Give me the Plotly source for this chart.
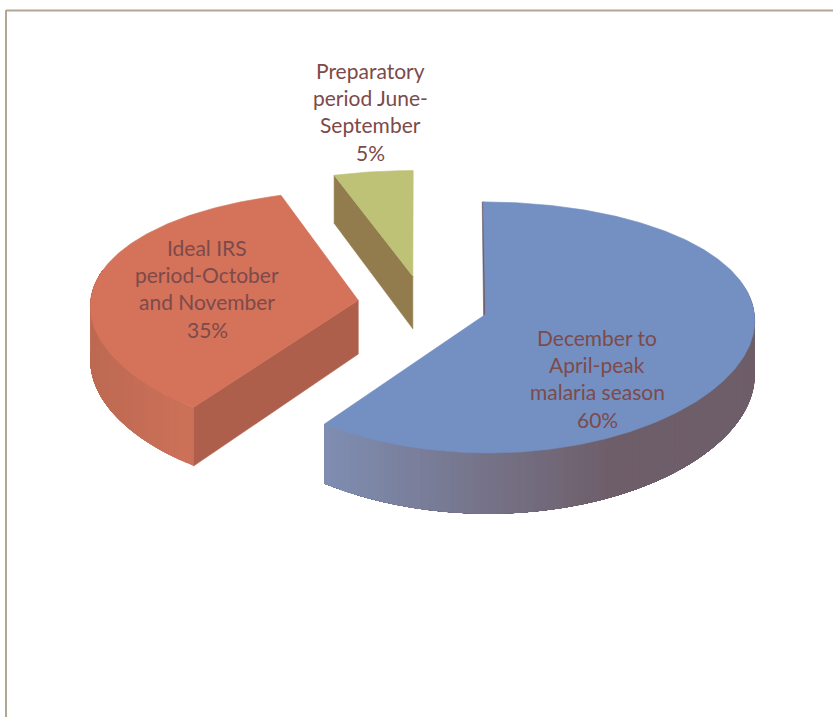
import math
import plotly.graph_objects as go

categories = ["December to April-peak malaria season",
              "Ideal IRS period-October and November",
              "Preparatory period June-September"]
percent_values = [60, 35, 5]
label_lines = [["December to", "April-peak", "malaria season"],
               ["Ideal IRS", "period-October", "and November"],
               ["Preparatory", "period June-", "September"]]

top_colors = ["#7490c2", "#d4725a", "#bdc277"]
rim_left = [(127, 142, 178), (189, 105, 82), (146, 124, 78)]
rim_right = [(110, 94, 105), (205, 113, 89), (146, 124, 78)]
cut_colors = ["#6d5f6b", "#ae5f4c", "#927c4e"]
text_color = "#7d4a4a"
label_centers = [(597, 337), (207, 247), (370, 70)]

W, H = 833, 717
CX, CY, R, RY, DEPTH, PERSP, PERSP_X, EXPLODE = 423, 305, 268, 122.2, 54, 0.1036, 0.04, 0.245
LINE_STEP = 27.4


def project(X, Y, z=0.0):
    w = 1 + PERSP * Y
    return CX + R * X / (1 + PERSP_X * Y), CY - RY * Y / w + DEPTH * z / w


fig = go.Figure()


def poly(pts, color, lw=0.6):
    fig.add_trace(go.Scatter(x=[p[0] for p in pts] + [pts[0][0]],
                             y=[p[1] for p in pts] + [pts[0][1]],
                             mode="lines", fill="toself", fillcolor=color,
                             line=dict(color=color, width=lw),
                             hoverinfo="skip", showlegend=False))


total = sum(percent_values)
start = 0.0
slices = []
for i, v in enumerate(percent_values):
    sweep = 360.0 * v / total
    slices.append((i, start, start + sweep))
    start += sweep


def geom(a0, a1):
    mid = math.radians((a0 + a1) / 2)
    xc, yc = EXPLODE * math.sin(mid), EXPLODE * math.cos(mid)

    def rim(a, z=0.0):
        t = math.radians(a)
        return project(xc + math.sin(t), yc + math.cos(t), z)
    return xc, yc, rim


# back to front: green, red, blue
for i, a0, a1 in [slices[2], slices[1], slices[0]]:
    xc, yc, rim = geom(a0, a1)
    # visible outer wall as overlapping shaded strips, painted from the far end
    lo, hi = max(a0, 75), min(a1, 285)
    if hi > lo:
        n = 90 if i == 0 else 40
        xs = [rim(lo + (hi - lo) * k / n)[0] for k in range(n + 1)]
        xmin, xmax = min(xs), max(xs)
        for k in range(n):
            a = lo + (hi - lo) * k / n
            f = ((rim(a + (hi - lo) / (2 * n))[0] - xmin) / (xmax - xmin))
            f = min(1.0, f * 1.5) if i == 0 else f
            c = [round(rim_left[i][j] + (rim_right[i][j] - rim_left[i][j]) * f) for j in range(3)]
            steps = [a + (hi - a) * m / 24 for m in range(25)]
            poly([rim(s) for s in steps] + [rim(s, 1) for s in reversed(steps)],
                 "rgb(%d,%d,%d)" % tuple(c), lw=0)
    # visible cut face
    apex = project(xc, yc)
    apex_low = project(xc, yc, 1)
    if i in (1, 2):
        poly([apex, rim(a0), rim(a0, 1), apex_low], cut_colors[i])
    if i == 0:
        r0 = rim(a0)
        poly([(apex[0] - 2, apex[1] + 3), (r0[0] - 1, r0[1]), (r0[0] + 1, r0[1]), (apex[0], apex[1] + 3)], cut_colors[i])
    # top surface
    n = max(8, int((a1 - a0) * 1.5))
    pts = [apex] + [rim(a0 + (a1 - a0) * k / n) for k in range(n + 1)]
    poly(pts, top_colors[i])

annotations = []
for i, lines in enumerate(label_lines):
    cx, y0 = label_centers[i]
    for k, line in enumerate(lines + ["%d%%" % percent_values[i]]):
        annotations.append(dict(x=cx, y=y0 + k * LINE_STEP, text=line, showarrow=False,
                                xanchor="center", yanchor="middle",
                                font=dict(family="Lato", size=21, color=text_color)))

shapes = [
    dict(type="line", x0=6, y0=10.5, x1=W, y1=10.5, line=dict(color="#b5a595", width=2)),
    dict(type="line", x0=6, y0=10, x1=6, y1=H, line=dict(color="#b5a595", width=2)),
]

fig.update_layout(
    width=W, height=H, autosize=False,
    margin=dict(l=0, r=0, t=0, b=0),
    paper_bgcolor="white", plot_bgcolor="white",
    xaxis=dict(range=[0, W], visible=False, fixedrange=True),
    yaxis=dict(range=[H, 0], visible=False, fixedrange=True),
    annotations=annotations, shapes=shapes, showlegend=False,
)
fig.write_html("out.html", config=dict(displayModeBar=False),
               post_script="document.body.style.margin='0';document.body.style.overflow='hidden';")
